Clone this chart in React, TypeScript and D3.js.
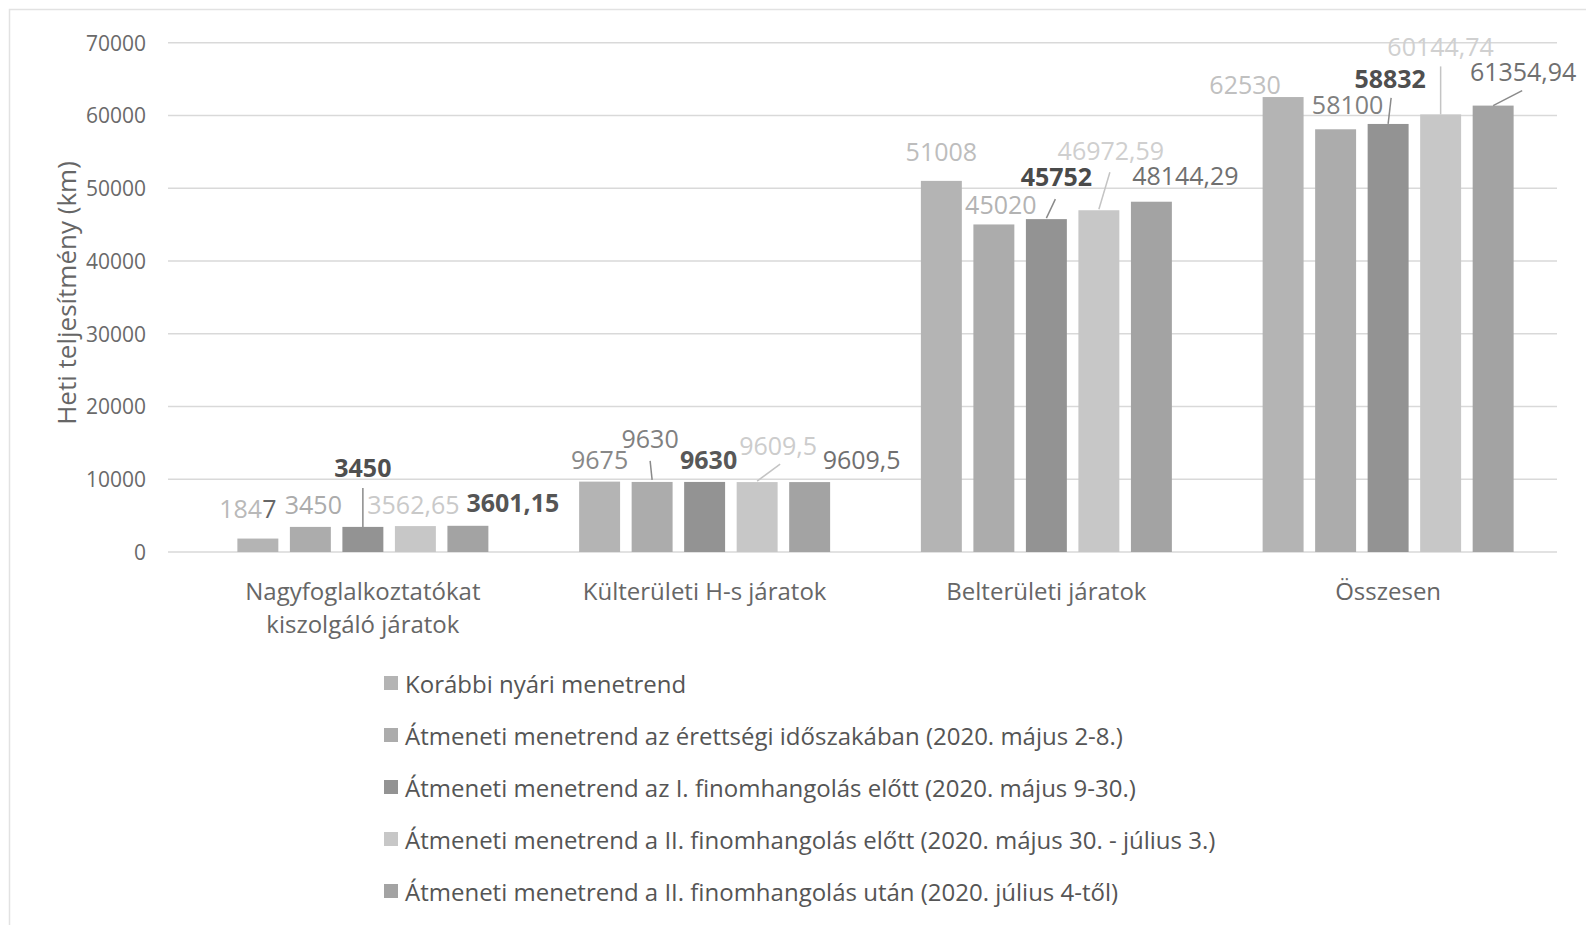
import { useEffect } from 'react'
import * as d3 from 'd3'

const categories = [
  'Nagyfoglalkoztatókat\nkiszolgáló járatok',
  'Külterületi H-s járatok',
  'Belterületi járatok',
  'Összesen',
]

const seriesNames = [
  'Korábbi nyári menetrend',
  'Átmeneti menetrend az érettségi időszakában (2020. május 2-8.)',
  'Átmeneti menetrend az I. finomhangolás előtt (2020. május 9-30.)',
  'Átmeneti menetrend a II. finomhangolás előtt (2020. május 30. - július 3.)',
  'Átmeneti menetrend a II. finomhangolás után (2020. július 4-től)',
]

const korabbi = [1847, 9675, 51008, 62530]
const erettsegi = [3450, 9630, 45020, 58100]
const elsoElott = [3450, 9630, 45752, 58832]
const masodikElott = [3562.65, 9609.5, 46972.59, 60144.74]
const masodikUtan = [3601.15, 9609.5, 48144.29, 61354.94]
const seriesValues = [korabbi, erettsegi, elsoElott, masodikElott, masodikUtan]

const yTicks = [0, 10000, 20000, 30000, 40000, 50000, 60000, 70000]

// layout / style, kept apart from the data
const barColors = ['#b4b4b4', '#acacac', '#939393', '#c7c7c7', '#a3a3a3']

// label offset from bar top-centre [dx, dy], indexed [series][group]
const labelOffsets = [
  [[-10, -31], [0, -23], [0, -30], [-38, -13]],
  [[3, -23], [-2, -44], [7, -20], [12, -25]],
  [[0, -60], [4, -23], [10, -43], [2, -46]],
  [[-2, -22], [21, -37], [12, -60], [0, -68]],
  [[45, -24], [52, -23], [34, -27], [30, -35]],
]

// leader lines relative to bar top-centre
const leaders: (number[] | null)[][] = [
  [null, null, null, null],
  [null, [-2, -21, 0, -2], null, null],
  [[0, -39, 0, 0], null, [9, -20, 0, -1], [3, -26, 0, 0]],
  [null, [23, -18, 0, -1], [11, -38, 0, -1], [0, -48, 0, 0]],
  [null, null, null, [29, -15, 0, 0]],
]

const labelColors = [
  ['#b9b9b9', '#888888', '#bdbdbd', '#c0c0c0'],
  ['#ababab', '#808080', '#b3b3b3', '#808080'],
  ['#4f4f4f', '#585858', '#4a4a4a', '#4f4f4f'],
  ['#c9c9c9', '#cccccc', '#cfcfcf', '#d0d0d0'],
  ['#555555', '#707070', '#707070', '#707070'],
]
const labelWeights = [
  ['normal', 'normal', 'normal', 'normal'],
  ['normal', 'normal', 'normal', 'normal'],
  ['bold', 'bold', 'bold', 'bold'],
  ['normal', 'normal', 'normal', 'normal'],
  ['bold', 'normal', 'normal', 'normal'],
]

const FONT = "'Open Sans', 'Noto Sans', sans-serif"

const fmt = (v: number) => String(v).replace('.', ',')

export default function App() {
  useEffect(() => {
    document.body.style.margin = '0'
  }, [])

  const width = 1586
  const height = 925

  const y = d3.scaleLinear().domain([0, 70000]).range([552, 42.7])
  const x0 = d3.scaleBand<number>().domain(d3.range(categories.length)).range([192, 1559])
  const x1 = d3.scaleBand<number>()
    .domain(d3.range(seriesValues.length))
    .range([-125.5, 125.5])
    .paddingInner(0.22)

  const gridX0 = 168
  const gridX1 = 1557

  return (
    <svg
      width={width}
      height={height}
      style={{ position: 'absolute', left: 0, top: 0, background: '#fff' }}
      fontFamily={FONT}
    >
      <rect x={9.5} y={9.5} width={width + 10} height={height + 10} fill="none" stroke="#e2e2e2" strokeWidth={1.5} />

      {yTicks.map(t => (
        <g key={t}>
          <line x1={gridX0} x2={gridX1} y1={y(t)} y2={y(t)} stroke="#d9d9d9" strokeWidth={1.5} />
          <text x={146} y={y(t)} textAnchor="end" dominantBaseline="central" fontSize={21} fill="#6a6a6a">
            {t}
          </text>
        </g>
      ))}

      <text
        transform={`translate(66, 293) rotate(-90)`}
        textAnchor="middle"
        dominantBaseline="central"
        fontSize={26}
        fill="#666"
      >
        Heti teljesítmény (km)
      </text>

      {seriesValues.map((vals, s) =>
        vals.map((v, g) => {
          const bx = x0(g)! + x0.bandwidth() / 2 + x1(s)!
          return (
            <rect
              key={`b${s}-${g}`}
              x={bx}
              y={y(v)}
              width={x1.bandwidth()}
              height={y(0) - y(v)}
              fill={barColors[s]}
            />
          )
        })
      )}

      {seriesValues.map((vals, s) =>
        vals.map((v, g) => {
          const cx = x0(g)! + x0.bandwidth() / 2 + x1(s)! + x1.bandwidth() / 2
          const top = y(v)
          const [dx, dy] = labelOffsets[s][g]
          const ld = leaders[s][g]
          const txt = fmt(v)
          return (
            <g key={`l${s}-${g}`}>
              {ld && (
                <line
                  x1={cx + ld[0]}
                  y1={top + ld[1]}
                  x2={cx + ld[2]}
                  y2={top + ld[3]}
                  stroke={s === 3 ? '#c4c4c4' : '#8a8a8a'}
                  strokeWidth={1.5}
                />
              )}
              <text
                x={cx + dx}
                y={top + dy}
                textAnchor="middle"
                dominantBaseline="central"
                fontSize={25}
                fontWeight={labelWeights[s][g]}
                fill={labelColors[s][g]}
              >
                {s === 0 && g === 0 ? (
                  <>
                    {txt.slice(0, -1)}
                    <tspan fill="#666">{txt.slice(-1)}</tspan>
                  </>
                ) : (
                  txt
                )}
              </text>
            </g>
          )
        })
      )}

      {categories.map((c, g) => {
        const cx = x0(g)! + x0.bandwidth() / 2
        return (
          <text key={`c${g}`} x={cx} y={590} textAnchor="middle" fontSize={24} fill="#666" dominantBaseline="central">
            {c.split('\n').map((line, i) => (
              <tspan key={i} x={cx} dy={i === 0 ? 0 : 33}>
                {line}
              </tspan>
            ))}
          </text>
        )
      })}

      {seriesNames.map((name, s) => {
        const ly = 683 + s * 52
        return (
          <g key={`lg${s}`}>
            <rect x={384} y={ly - 7} width={14} height={14} fill={barColors[s]} />
            <text x={405} y={ly} dominantBaseline="central" fontSize={24} fill="#555">
              {name}
            </text>
          </g>
        )
      })}
    </svg>
  )
}
